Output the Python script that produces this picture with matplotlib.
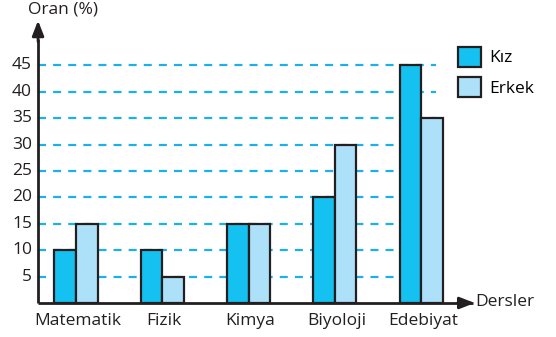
import matplotlib
matplotlib.use("Agg")
import matplotlib.pyplot as plt
from matplotlib.patches import Patch

categories = ["Matematik", "Fizik", "Kimya", "Biyoloji", "Edebiyat"]
kiz = [10, 10, 15, 20, 45]
erkek = [15, 5, 15, 30, 35]
yticks = [5, 10, 15, 20, 25, 30, 35, 40, 45]
series_labels = ["Kız", "Erkek"]
y_title = "Oran (%)"
x_title = "Dersler"

KIZ_COLOR = "#14C1F1"
ERKEK_COLOR = "#ADE1F9"
GRID_COLOR = "#1BB0EA"
INK = "#231F20"
FS = 12.5

plt.rcParams["font.family"] = ["Open Sans", "DejaVu Sans"]

fig = plt.figure(figsize=(5.56, 3.37), dpi=100)
ax = fig.add_axes([0, 0, 1, 1])
ax.set_xlim(-0.881, 5.562)
ax.set_ylim(-6.44, 57.39)
ax.axis("off")

x_left = -0.44
width = 0.25
xs = list(range(len(categories)))

# dashed guide lines behind the bars
for v in yticks:
    ax.plot([x_left, 4.17], [v, v], color=GRID_COLOR, lw=1.6,
            dashes=(3.6, 3.2), zorder=1)
    ax.text(x_left - 0.07, v, str(v), ha="right", va="center",
            fontsize=FS, color=INK)

ax.bar([x - width / 2 for x in xs], kiz, width=width, color=KIZ_COLOR,
       edgecolor=INK, linewidth=1.6, zorder=3)
ax.bar([x + width / 2 for x in xs], erkek, width=width, color=ERKEK_COLOR,
       edgecolor=INK, linewidth=1.6, zorder=3)

for x, name in zip(xs, categories):
    ax.text(x + 0.02, -3.5, name, ha="center", va="center",
            fontsize=FS, color=INK)

# axes with arrow heads
ax.plot([x_left, x_left], [0, 50], color=INK, lw=2, zorder=4,
        solid_capstyle="butt")
ax.annotate("", xy=(x_left, 53.5), xytext=(x_left, 49.5),
            arrowprops=dict(arrowstyle="-|>,head_length=0.9,head_width=0.35",
                            color=INK, lw=2, shrinkA=0, shrinkB=0), zorder=5)
ax.plot([x_left, 4.6], [0, 0], color=INK, lw=2, zorder=4,
        solid_capstyle="butt")
ax.annotate("", xy=(4.62, 0), xytext=(4.42, 0),
            arrowprops=dict(arrowstyle="-|>,head_length=0.9,head_width=0.35",
                            color=INK, lw=2, shrinkA=0, shrinkB=0), zorder=5)

ax.text(x_left - 0.12, 55.5, y_title, ha="left", va="center",
        fontsize=FS, color=INK)
ax.text(4.63, 0.1, x_title, ha="left", va="center",
        fontsize=FS, color=INK)

handles = [Patch(facecolor=KIZ_COLOR, edgecolor=INK, linewidth=1.6),
           Patch(facecolor=ERKEK_COLOR, edgecolor=INK, linewidth=1.6)]
ax.legend(handles, series_labels, loc="upper left",
          bbox_to_anchor=(0.823, 0.862), frameon=False, fontsize=FS,
          handlelength=1.35, handleheight=1.4, handletextpad=0.45,
          labelspacing=0.62, borderaxespad=0, borderpad=0)

fig.savefig("out.png", dpi=100)
